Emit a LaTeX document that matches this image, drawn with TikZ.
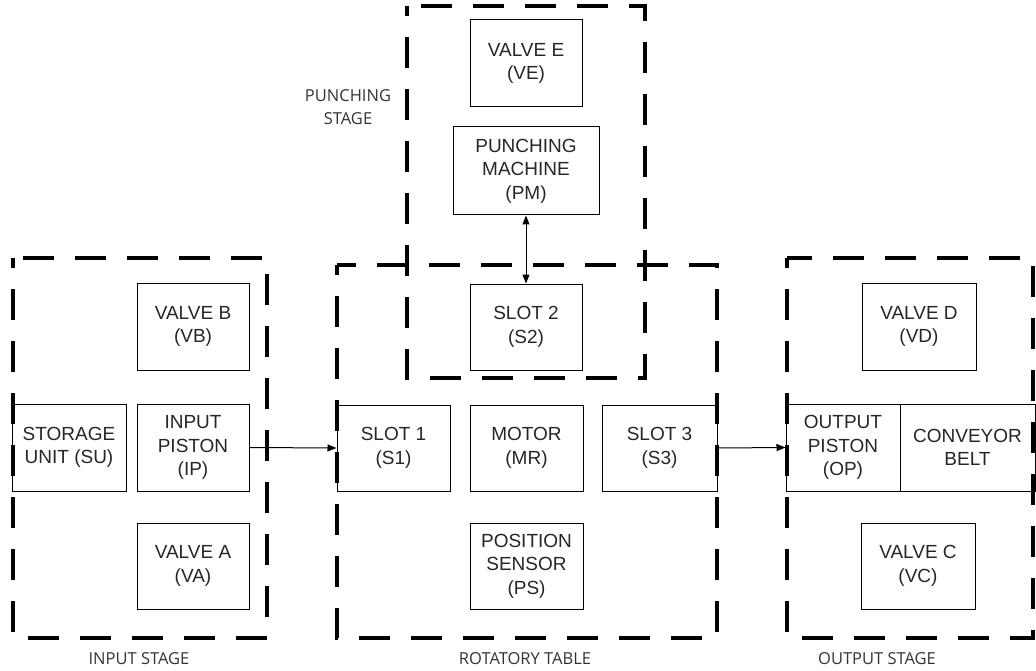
\documentclass[tikz,border=0pt]{standalone}
\usepackage{fontspec}
\setmainfont{Liberation Sans}
\newfontfamily\labelfont{Open Sans}
\usetikzlibrary{arrows.meta}
\tikzset{
  blk/.style={draw, line width=1pt, inner sep=0pt, align=center,
    font=\fontsize{19}{23.5}\selectfont, text=black!85},
  frame/.style={line width=4pt, dash pattern=on 31pt off 21pt, dash phase=21pt},
  stagelbl/.style={font=\labelfont\fontsize{16.5}{23}\selectfont, align=center, text=black!80},
  conn/.style={line width=1pt, -{Triangle[length=9pt,width=7pt]}},
  bconn/.style={line width=1pt, {Triangle[length=9pt,width=7pt]}-{Triangle[length=9pt,width=7pt]}}
}
\begin{document}
\begin{tikzpicture}[x=1pt,y=-1pt]
\useasboundingbox (0,0) rectangle (1036,671);
% boxes
\node[blk, minimum width=112, minimum height=87] (VB) at (193,326.5) {VALVE B\\(VB)};
\node[blk, minimum width=114, minimum height=87] (SU) at (69,447.5) {STORAGE\\UNIT (SU)};
\node[blk, minimum width=112, minimum height=87] (IP) at (193,447.5) {INPUT\\PISTON\\(IP)};
\node[blk, minimum width=112, minimum height=86] (VA) at (193,566) {VALVE A\\(VA)};
\node[blk, minimum width=113, minimum height=86] (S1) at (393.5,448) {SLOT 1\\(S1)};
\node[blk, minimum width=113, minimum height=86] (MR) at (526.5,448) {MOTOR\\(MR)};
\node[blk, minimum width=115, minimum height=86] (S3) at (659.5,448) {SLOT 3\\(S3)};
\node[blk, minimum width=113, minimum height=86] (PS) at (526.5,566) {POSITION\\SENSOR\\(PS)};
\node[blk, minimum width=112, minimum height=86] (S2) at (526,327) {SLOT 2\\(S2)};
\node[blk, minimum width=112, minimum height=87] (VE) at (526,63.5) {VALVE E\\(VE)};
\node[blk, minimum width=146, minimum height=88] (PM) at (526,171) {PUNCHING\\MACHINE\\(PM)};
\node[blk, minimum width=114, minimum height=87] (VD) at (919,326.5) {VALVE D\\(VD)};
\node[blk, minimum width=114, minimum height=87] (OP) at (843,447.5) {OUTPUT\\PISTON\\(OP)};
\node[blk, minimum width=135, minimum height=87] (CB) at (967.5,447.5) {CONVEYOR\\BELT};
\node[blk, minimum width=114, minimum height=86] (VC) at (918,566) {VALVE C\\(VC)};
% stage frames
\draw[frame] (13,258) rectangle (267,638);
\draw[frame] (337,265) rectangle (717,638);
\draw[frame] (407,6) rectangle (645,378);
\draw[frame] (787,258) rectangle (1033,638);
% stage labels
\node[stagelbl] (lin) at (139,659) {INPUT STAGE};
\node[stagelbl] (lrt) at (525,659) {ROTATORY TABLE};
\node[stagelbl] (lout) at (877,659) {OUTPUT STAGE};
\node[stagelbl] (lps) at (348,107) {PUNCHING\\STAGE};
% connectors
\draw[conn] (IP.east) -- (S1.west);
\draw[conn] (S3.east) -- (OP.west);
\draw[bconn] (PM.south) -- (S2.north);
\end{tikzpicture}
\end{document}
